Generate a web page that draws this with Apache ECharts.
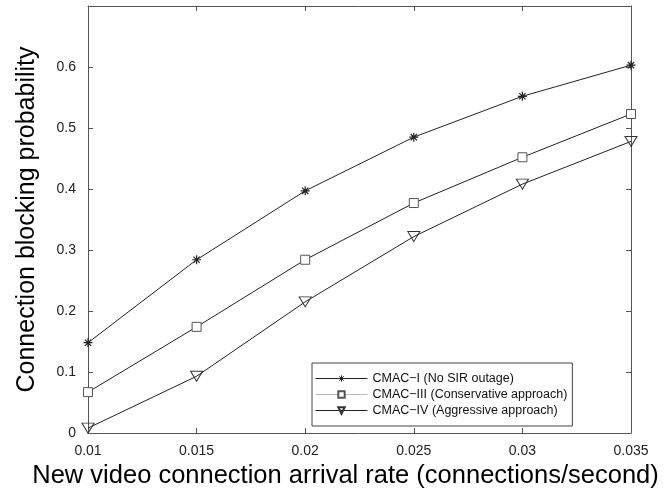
<!DOCTYPE html>
<html>
<head>
<meta charset="utf-8">
<script src="https://cdn.jsdelivr.net/npm/echarts@6/dist/echarts.min.js"></script>
<style>
  html, body { margin: 0; padding: 0; background: #fff; }
  #chart { width: 671px; height: 495px; }
</style>
</head>
<body>
<div id="chart"></div>
<script>
// arrival rate (connections/second)
const rates = [0.01, 0.015, 0.02, 0.025, 0.03, 0.035];
const cmac1 = [0.148, 0.284, 0.397, 0.485, 0.552, 0.603];
const cmac3 = [0.067, 0.174, 0.284, 0.377, 0.452, 0.523];
const cmac4 = [0.008, 0.093, 0.215, 0.322, 0.408, 0.478];
const seriesNames = [
  "CMAC\u2212I (No SIR outage)",
  "CMAC\u2212III (Conservative approach)",
  "CMAC\u2212IV (Aggressive approach)"
];
const yTicks = [0, 0.1, 0.2, 0.3, 0.4, 0.5, 0.6];

const font = "Liberation Sans, Arial, sans-serif";
const asterisk = "path://M0,5L10,5M5,0L5,10M1.5,1.5L8.5,8.5M8.5,1.5L1.5,8.5";

const pairs = (ys) => rates.map((x, i) => [x, ys[i]]);

const axisCommon = {
  axisLine: { show: true, onZero: false, lineStyle: { color: "#555", width: 1 } },
  axisTick: { show: true, inside: true, length: 5, lineStyle: { color: "#555" } },
  splitLine: { show: false }
};

const chart = echarts.init(document.getElementById("chart"));
chart.setOption({
  backgroundColor: "#fff",
  animation: false,
  textStyle: { fontFamily: font },
  grid: { left: 88, top: 6, right: 40, bottom: 62, outerBoundsMode: "none", containLabel: false },
  legend: {
    orient: "vertical",
    left: 312,
    top: 363,
    padding: [8, 5, 8, 3],
    itemGap: 1,
    itemWidth: 52,
    itemHeight: 8,
    borderColor: "#444",
    borderWidth: 1,
    backgroundColor: "#fff",
    lineStyle: { width: 1 },
    textStyle: { fontSize: 12.5, lineHeight: 15, color: "#111", fontFamily: font },
    data: [
      { name: seriesNames[0], itemStyle: { color: "none", borderColor: "#222", borderWidth: 1 } },
      { name: seriesNames[1], lineStyle: { color: "#bbb", width: 1 } },
      { name: seriesNames[2] }
    ]
  },
  xAxis: [
    Object.assign({}, axisCommon, {
      type: "value",
      min: 0.01,
      max: 0.035,
      interval: 0.005,
      position: "bottom",
      name: "New video connection arrival rate (connections/second)",
      nameLocation: "middle",
      nameGap: 29,
      nameTextStyle: { fontSize: 25.5, color: "#000", fontFamily: font, padding: [0, 28, 0, 0] },
      axisLabel: {
        fontSize: 14, color: "#222", margin: 11, fontFamily: font,
        formatter: (v) => String(parseFloat(v.toFixed(3)))
      }
    }),
    Object.assign({}, axisCommon, {
      type: "value",
      min: 0.01,
      max: 0.035,
      interval: 0.005,
      position: "top",
      axisLabel: { show: false }
    })
  ],
  yAxis: [
    Object.assign({}, axisCommon, {
      type: "value",
      min: 0,
      max: 0.7,
      interval: 0.1,
      position: "left",
      name: "Connection blocking probability",
      nameLocation: "middle",
      nameGap: 48,
      nameTextStyle: { fontSize: 25, color: "#000", fontFamily: font },
      axisLabel: {
        fontSize: 14, color: "#222", margin: 12, fontFamily: font,
        formatter: (v) => {
          const r = parseFloat(v.toFixed(2));
          return yTicks.includes(r) ? String(r) : "";
        }
      }
    }),
    Object.assign({}, axisCommon, {
      type: "value",
      min: 0,
      max: 0.7,
      interval: 0.1,
      position: "right",
      axisLabel: { show: false }
    })
  ],
  series: [
    {
      name: seriesNames[0],
      type: "line",
      data: pairs(cmac1),
      symbol: asterisk,
      symbolSize: 9,
      showAllSymbol: true,
      lineStyle: { color: "#222", width: 1 },
      itemStyle: { color: "none", borderColor: "#222", borderWidth: 1.2 }
    },
    {
      name: seriesNames[1],
      type: "line",
      data: pairs(cmac3),
      symbol: "rect",
      symbolSize: 9,
      showAllSymbol: true,
      lineStyle: { color: "#222", width: 1 },
      itemStyle: { color: "#fff", borderColor: "#555", borderWidth: 1 }
    },
    {
      name: seriesNames[2],
      type: "line",
      data: pairs(cmac4),
      symbol: "triangle",
      symbolRotate: 180,
      symbolSize: [12, 10],
      showAllSymbol: true,
      lineStyle: { color: "#222", width: 1 },
      itemStyle: { color: "none", borderColor: "#333", borderWidth: 1 }
    }
  ]
});
</script>
</body>
</html>
